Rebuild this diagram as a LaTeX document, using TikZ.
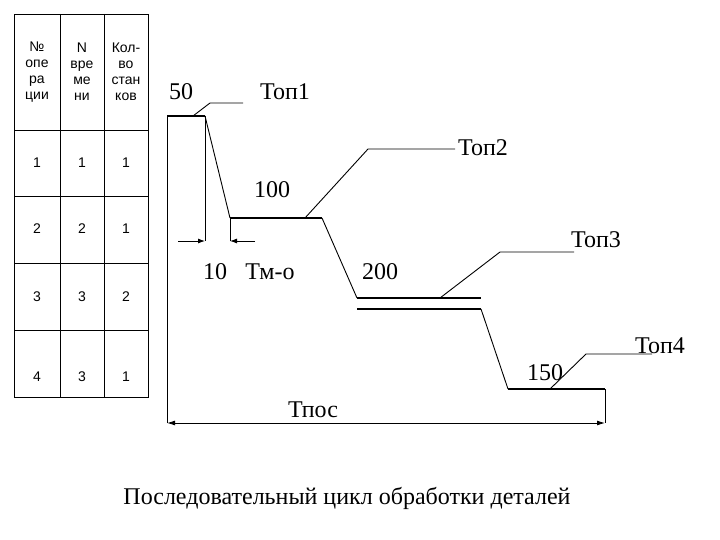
\documentclass[tikz,border=0pt]{standalone}
\usepackage{fontspec}
\usetikzlibrary{arrows.meta}
\setmainfont{Liberation Serif}
\newfontfamily\tsans{Liberation Sans}
\begin{document}
\begin{tikzpicture}[x=1pt,y=-1pt,
  thin line/.style={line width=0.9pt},
  thick line/.style={line width=2.8pt},
  lbl/.style={font=\fontsize{24}{24}\selectfont, inner sep=0},
  cell/.style={font=\tsans\fontsize{14}{16}\selectfont, align=center, inner sep=0},
  arr/.style={thin line,-{Latex[length=7pt,width=5pt]}}]
\useasboundingbox (0,0) rectangle (720,540);
% table
\draw[thin line] (14,14) rectangle (148,397);
\foreach \x in {60,104} \draw[thin line] (\x,14) -- (\x,397);
\foreach \y in {130,196,263,330} \draw[thin line] (14,\y) -- (148,\y);
\node[cell] (h1) at (37,72) {№\\опе\\ра\\ции};
\node[cell] (h2) at (82,72) {N\\вре\\ме\\ни};
\node[cell] (h3) at (126,72) {Кол-\\во\\стан\\ков};
\foreach \y/\a/\b/\c in {163/1/1/1, 229/2/2/1, 297/3/3/2, 377/4/3/1}{
  \node[cell] at (37,\y) {\a}; \node[cell] at (82,\y) {\b}; \node[cell] at (126,\y) {\c};}
% chart
\coordinate (o) at (167,423);
\coordinate (a1) at (167,116); \coordinate (a2) at (205,116);
\coordinate (b1) at (230,218); \coordinate (b2) at (322,218);
\coordinate (c1) at (357,298); \coordinate (c2) at (481,298);
\coordinate (d1) at (357,309); \coordinate (d2) at (481,309);
\coordinate (e1) at (508,389); \coordinate (e2) at (605,389);
\coordinate (f) at (605,423);
\draw[thin line] (o) -- (a1);
\draw[thick line] (a1) -- (a2);
\draw[thin line] (a2) -- (b1);
\draw[thick line] (b1) -- (b2);
\draw[thin line] (b2) -- (c1);
\draw[thick line] (c1) -- (c2);
\draw[thick line] (d1) -- (d2);
\draw[thin line] (d2) -- (e1);
\draw[thick line] (e1) -- (e2);
\draw[thin line] (e2) -- (f);
% dimension Tm-o
\coordinate (g1) at (205,241); \coordinate (g2) at (230,241);
\coordinate (g0) at (178,241); \coordinate (g3) at (255,241);
\draw[thin line] (a2) -- (g1);
\draw[thin line] (b1) -- (g2);
\draw[arr] (g0) -- (g1);
\draw[arr] (g3) -- (g2);
% Tpos
\draw[thin line,{Latex[length=8pt,width=5pt]}-{Latex[length=8pt,width=5pt]}] (o) -- (f);
% leaders
\coordinate (l1a) at (193,116); \coordinate (l1b) at (210,103); \coordinate (l1c) at (243,103);
\draw[thin line] (l1a) -- (l1b) -- (l1c);
\coordinate (l2a) at (305,218); \coordinate (l2b) at (368,149); \coordinate (l2c) at (455,149);
\draw[thin line] (l2a) -- (l2b) -- (l2c);
\coordinate (l3a) at (440,298); \coordinate (l3b) at (500,252); \coordinate (l3c) at (574,252);
\draw[thin line] (l3a) -- (l3b) -- (l3c);
\coordinate (l4a) at (550,389); \coordinate (l4b) at (586,354); \coordinate (l4c) at (652,354);
\draw[thin line] (l4a) -- (l4b) -- (l4c);
% labels
\node[lbl] (t50) at (181,92) {50};
\node[lbl] (top1) at (285,92) {Топ1};
\node[lbl] (top2) at (483,148) {Топ2};
\node[lbl] (t100) at (272,190) {100};
\node[lbl] (top3) at (596,240) {Топ3};
\node[lbl] (t10) at (215,272) {10};
\node[lbl] (tmo) at (270,272) {Тм-о};
\node[lbl] (t200) at (380,272) {200};
\node[lbl] (top4) at (660,346) {Топ4};
\node[lbl] (t150) at (545,373) {150};
\node[lbl] (tpos) at (313,410) {Тпос};
\node[lbl] (cap) at (347,498) {Последовательный цикл обработки деталей};
\end{tikzpicture}
\end{document}
